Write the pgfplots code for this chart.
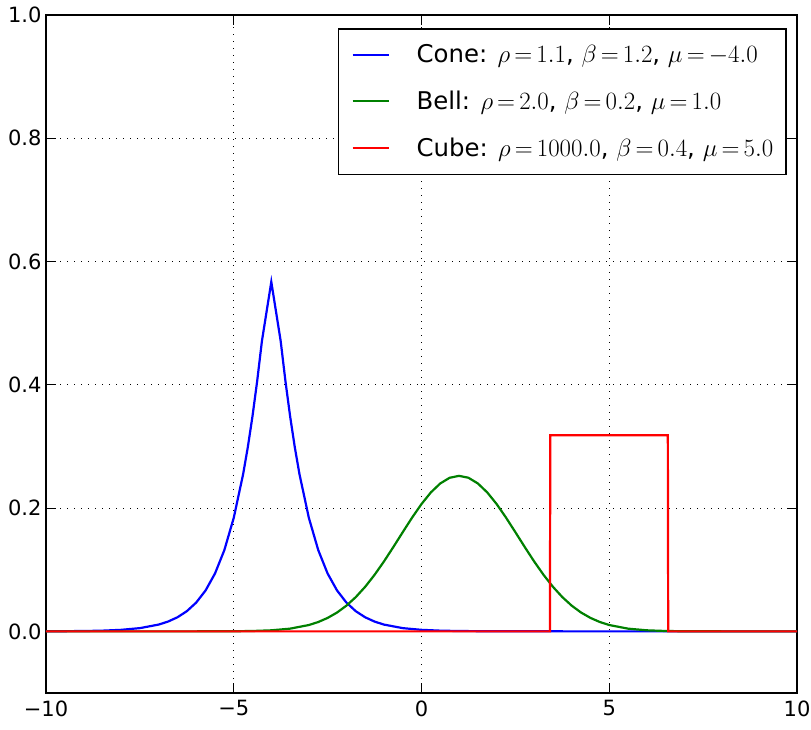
\documentclass[border=0pt]{standalone}
\usepackage{fontspec}
\setmainfont{DejaVu Sans}
\usepackage{pgfplots}
\pgfplotsset{compat=1.18}

\definecolor{mplblue}{rgb}{0,0,1}
\definecolor{mplgreen}{rgb}{0,0.5,0}
\definecolor{mplred}{rgb}{1,0,0}

\begin{document}
% tighter spacing around "=" in the legend formulas
\thickmuskip=3mu plus 1mu
\begin{tikzpicture}
\begin{axis}[
  scale only axis, width=751pt, height=678pt,
  xmin=-10, xmax=10, ymin=-0.1, ymax=1.0,
  xtick={-10,-5,0,5,10}, xticklabels={−10,−5,0,5,10},
  ytick={0,0.2,0.4,0.6,0.8,1.0}, yticklabels={0.0,0.2,0.4,0.6,0.8,1.0},
  tick label style={font=\fontsize{21}{25}\selectfont, black},
  xticklabel style={yshift=-4pt},
  yticklabel style={xshift=-1pt},
  tick align=inside, tick pos=both, major tick length=10pt,
  every tick/.style={black, line width=1pt},
  axis line style={black, line width=1.6pt},
  grid=major,
  major grid style={black, line width=1pt, dash pattern=on 1.2pt off 5.8pt},
  legend cell align=left,
  legend image code/.code={\draw[line width=2pt] (0pt,0pt) -- (36pt,0pt);},
  legend style={at={(1,1)}, anchor=north east, xshift=-10pt, yshift=-13pt,
    draw=black, line width=1.6pt, fill=white,
    font=\fontsize{24.4}{29}\selectfont,
    inner xsep=13pt, inner ysep=16pt, row sep=27pt,
    nodes={inner sep=0pt},
    /tikz/every odd column/.append style={column sep=27pt}},
]
% Cone: rho=1.1, beta=1.2, mu=-4
\addplot[mplblue, line width=2.2pt] coordinates {
(-10,0.00011) (-9,0.00053) (-8.5,0.00115) (-8,0.00247) (-7.5,0.00524)
(-7,0.0110) (-6.75,0.01587) (-6.5,0.02283) (-6.25,0.0327) (-6,0.0467)
(-5.75,0.0664) (-5.5,0.0938) (-5.25,0.1319) (-5,0.1842) (-4.75,0.2551)
(-4.625,0.2990) (-4.5,0.3494) (-4.375,0.4067) (-4.25,0.4709)
(-4,0.567)
(-3.75,0.4709) (-3.625,0.4067) (-3.5,0.3494) (-3.375,0.2990)
(-3.25,0.2551) (-3,0.1842) (-2.75,0.1319) (-2.5,0.0938) (-2.25,0.0664)
(-2,0.0467) (-1.75,0.0327) (-1.5,0.02283) (-1.25,0.01587) (-1,0.0110)
(-0.5,0.00524) (0,0.00247) (0.5,0.00115) (1,0.00053) (2,0.00011)
(3,0.00002) (10,0)
};
\addlegendentry{Cone: $\rho=1.1$, $\beta=1.2$, $\mu=-4.0$}
% Bell: rho=2, beta=0.2, mu=1
\addplot[mplgreen, line width=2.2pt] coordinates {
(-10,0) (-6,0.000014) (-5,0.00019) (-4.5,0.000595) (-4,0.0017) (-3.5,0.0044)
(-3,0.01028) (-2.75,0.01515) (-2.5,0.0218) (-2.25,0.0305) (-2,0.0417)
(-1.75,0.0556) (-1.5,0.0723) (-1.25,0.0917) (-1,0.1134) (-0.75,0.1368)
(-0.5,0.1609) (-0.25,0.1846) (0,0.2066) (0.25,0.2255) (0.5,0.2400)
(0.75,0.2492) (1,0.2523) (1.25,0.2492) (1.5,0.2400) (1.75,0.2255)
(2,0.2066) (2.25,0.1846) (2.5,0.1609) (2.75,0.1368) (3,0.1134)
(3.25,0.0917) (3.5,0.0723) (3.75,0.0556) (4,0.0417) (4.25,0.0305)
(4.5,0.0218) (4.75,0.01515) (5,0.01028) (5.5,0.0044) (6,0.0017)
(6.5,0.000595) (7,0.00019) (8,0.000014) (10,0)
};
\addlegendentry{Bell: $\rho=2.0$, $\beta=0.2$, $\mu=1.0$}
% Cube: rho=1000, beta=0.4, mu=5
\addplot[mplred, line width=2.2pt] coordinates {
(-10,0) (3.42,0) (3.43,0.3183) (6.56,0.3183) (6.57,0) (10,0)
};
\addlegendentry{Cube: $\rho=1000.0$, $\beta=0.4$, $\mu=5.0$}
\end{axis}
\pgfresetboundingbox
\path[use as bounding box] ([shift={(-46pt,-37pt)}]current axis.south west)
  rectangle ([shift={(14pt,15pt)}]current axis.north east);
\end{tikzpicture}
\end{document}
